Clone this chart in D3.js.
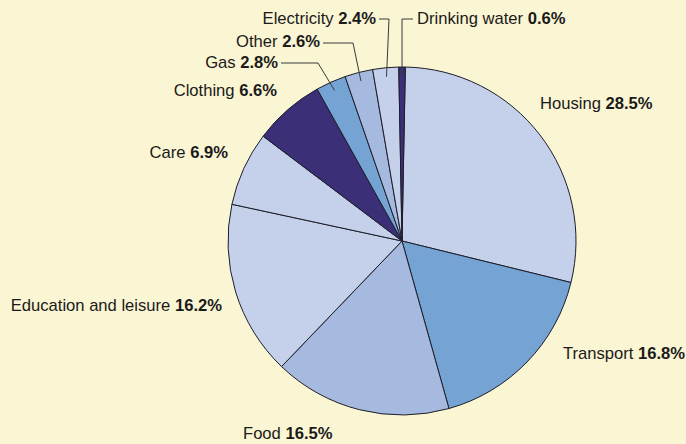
<!DOCTYPE html>
<html>
<head>
<meta charset="utf-8">
<script src="https://cdn.jsdelivr.net/npm/d3@7/dist/d3.min.js"></script>
<style>
  html, body { margin: 0; padding: 0; background: #faf5d3; }
  svg { display: block; }
  text { font-family: "Liberation Sans", Arial, Helvetica, sans-serif; font-size: 16.6px; fill: #1a1a1a; }
</style>
</head>
<body>
<script>
// Household spending shares, clockwise from the top
const categories = ["Housing", "Transport", "Food", "Education and leisure", "Care",
                    "Clothing", "Gas", "Other", "Electricity", "Drinking water"];
const shares = [28.5, 16.8, 16.5, 16.2, 6.9, 6.6, 2.8, 2.6, 2.4, 0.6];
const valueLabels = ["28.5%", "16.8%", "16.5%", "16.2%", "6.9%", "6.6%", "2.8%", "2.6%", "2.4%", "0.6%"];

// Slice fills
const fills = ["#c5d0ea", "#74a3d4", "#a6b9df", "#c5d0ea", "#c5d0ea",
               "#3b2f78", "#74a3d4", "#a6b9df", "#c5d0ea", "#3b2f78"];

// Label layout: anchor point, text-anchor, and an optional leader-line elbow
const labelLayout = {
  "Housing":               { x: 540, y: 109, anchor: "start" },
  "Transport":             { x: 563, y: 359, anchor: "start" },
  "Food":                  { x: 243, y: 439, anchor: "start" },
  "Education and leisure": { x: 222, y: 311, anchor: "end" },
  "Care":                  { x: 228, y: 158, anchor: "end" },
  "Clothing":              { x: 277, y: 96,  anchor: "end" },
  "Gas":                   { x: 278, y: 68,  anchor: "end",   elbow: [318, 63], lineStart: 281 },
  "Other":                 { x: 320, y: 47,  anchor: "end",   elbow: [353, 43], lineStart: 323 },
  "Electricity":           { x: 376, y: 24,  anchor: "end",   elbow: [389, 19], lineStart: 379 },
  "Drinking water":        { x: 417, y: 24,  anchor: "start", elbow: [402, 19], lineStart: 413 }
};

const width = 686, height = 444;
const cx = 402, cy = 241, R = 174;
const rotation = 1.1 * Math.PI / 180;

const svg = d3.select("body").append("svg")
  .attr("width", width).attr("height", height);

svg.append("rect").attr("width", width).attr("height", height).attr("fill", "#faf5d3");

const data = categories.map((c, i) => ({ name: c, value: shares[i], label: valueLabels[i], fill: fills[i] }));

const pie = d3.pie().sort(null).value(d => d.value)
  .startAngle(rotation).endAngle(2 * Math.PI + rotation);
const arcs = pie(data);
const arc = d3.arc().innerRadius(0).outerRadius(R);

const g = svg.append("g").attr("transform", `translate(${cx},${cy})`);

g.selectAll("path.slice").data(arcs).join("path")
  .attr("class", "slice")
  .attr("d", arc)
  .attr("fill", d => d.data.fill)
  .attr("stroke", "#1e1e2a")
  .attr("stroke-width", 1)
  .attr("stroke-linejoin", "round");

// Leader lines for the narrow slices
const leaderR = 165;
arcs.forEach(a => {
  const L = labelLayout[a.data.name];
  if (!L.elbow) return;
  const mid = (a.startAngle + a.endAngle) / 2;
  const px = cx + leaderR * Math.sin(mid);
  const py = cy - leaderR * Math.cos(mid);
  const path = d3.path();
  path.moveTo(L.lineStart, L.elbow[1]);
  path.lineTo(L.elbow[0], L.elbow[1]);
  path.lineTo(px, py);
  svg.append("path").attr("d", path.toString())
    .attr("fill", "none").attr("stroke", "#3a3a3a").attr("stroke-width", 1);
});

// Category labels with bold values
arcs.forEach(a => {
  const L = labelLayout[a.data.name];
  const t = svg.append("text")
    .attr("x", L.x).attr("y", L.y)
    .attr("text-anchor", L.anchor);
  t.append("tspan").text(a.data.name + " ");
  t.append("tspan").attr("font-weight", "bold").text(a.data.label);
});
</script>
</body>
</html>
